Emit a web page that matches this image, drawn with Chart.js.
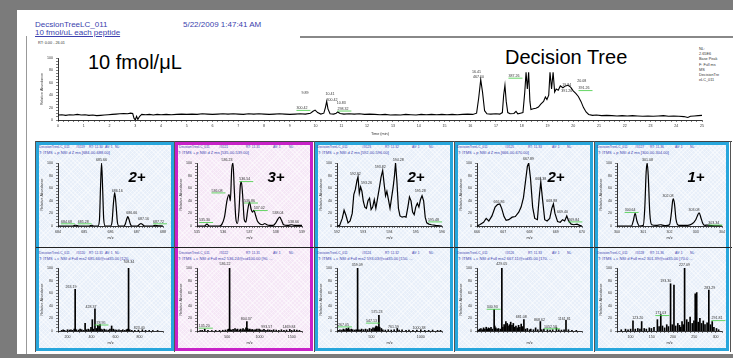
<!DOCTYPE html>
<html>
<head>
<meta charset="utf-8">
<script src="https://cdn.jsdelivr.net/npm/chart.js@4.4.1/dist/chart.umd.min.js"></script>
<style>
  body { margin:0; width:733px; height:358px; background:#7b7b7b; position:relative; overflow:hidden; font-family:Arial, "Liberation Sans", sans-serif; }
  .abs { position:absolute; }
  .hdr { color:#3b3fae; font-size:8px; line-height:8px; white-space:nowrap; }
  .tiny { font-size:3.8px; line-height:4.6px; white-space:nowrap; color:#333; }
  .ph { font-size:3.3px; line-height:4px; color:#3b3fae; white-space:pre; }
  .ph2 { font-size:4px; line-height:4px; color:#3b3fae; white-space:pre; }
  .col { box-sizing:border-box; border:3px solid #27a6dc; background-color:#e8eff9;
         background-image:repeating-linear-gradient(45deg, rgba(255,255,255,0.45) 0 1px, transparent 1px 3px),
                          repeating-linear-gradient(-45deg, rgba(255,255,255,0.45) 0 1px, transparent 1px 3px); }
  .col.pink { border-color:#c822c8; background-color:#f5e7f6; }
  .charge { font:italic bold 15px Arial, "Liberation Sans", sans-serif; color:#000; transform:translate(-50%,-50%); }
  .big { font-size:20px; line-height:20px; color:#000; white-space:nowrap; }
  canvas { position:absolute; }
</style>
</head>
<body>
<div class="abs" style="left:17px;top:10px;width:716px;height:344px;background:#fff"></div>
<div class="abs" style="left:26px;top:36px;width:1px;height:318px;background:#999"></div>
<div class="abs" style="left:300px;top:36px;width:433px;height:2px;background:#888"></div>

<div class="abs hdr" style="left:35px;top:21px">DecsionTreeLC_011</div>
<div class="abs hdr" style="left:35px;top:29px;text-decoration:underline">10 fmol/uL each peptide</div>
<div class="abs hdr" style="left:183px;top:21px">5/22/2009 1:47:41 AM</div>
<div class="abs tiny" style="left:38px;top:41px">RT: 0.00 - 26.01</div>
<div class="abs big" style="left:88px;top:52px">10 fmol/μL</div>
<div class="abs big" style="left:505px;top:47px">Decision Tree</div>
<div class="abs tiny" style="left:699px;top:47px;line-height:5.2px">NL:<br>2.65E6<br>Base Peak<br>F: Full ms<br>MS<br>DecisionTre<br>eLC_011</div>

<script>
// chromatogram (base peak), time in min, relative abundance in %
const chromTime = [
  0.0, 0.15, 0.3, 0.45, 0.6, 0.75, 0.9, 1.05, 1.2, 1.35,
  1.5, 1.65, 1.8, 1.95, 2.1, 2.25, 2.4, 2.55, 2.7, 2.82,
  2.9, 2.95, 3.0, 3.05, 3.1, 3.17, 3.25, 3.4, 3.55, 3.7,
  3.85, 4.0, 4.2, 4.4, 4.6, 4.8, 5.0, 5.2, 5.4, 5.6,
  5.8, 6.0, 6.2, 6.4, 6.6, 6.8, 7.0, 7.2, 7.4, 7.6,
  7.8, 8.0, 8.2, 8.4, 8.6, 8.8, 9.0, 9.2, 9.4, 9.6,
  9.8, 9.9, 9.98, 10.08, 10.2, 10.32, 10.38, 10.43, 10.48, 10.56,
  10.7, 10.8, 10.86, 10.95, 11.1, 11.3, 11.5, 11.7, 11.9, 12.1,
  12.3, 12.5, 12.7, 12.9, 13.1, 13.3, 13.5, 13.7, 13.9, 14.1,
  14.3, 14.5, 14.7, 14.9, 15.1, 15.3, 15.5, 15.7, 15.9, 16.1,
  16.25, 16.33, 16.41, 16.48, 16.56, 16.65, 16.8, 17.0, 17.15, 17.25,
  17.3, 17.35, 17.4, 17.46, 17.55, 17.7, 17.78, 17.85, 17.95, 18.05,
  18.12, 18.17, 18.22, 18.27, 18.32, 18.36, 18.45, 18.55, 18.65, 18.75,
  18.85, 18.92, 18.98, 19.05, 19.1, 19.16, 19.22, 19.28, 19.34, 19.42,
  19.5, 19.6, 19.7, 19.8, 19.9, 20.0, 20.1, 20.2, 20.3, 20.4,
  20.5, 20.6, 20.75, 20.9, 21.1, 21.3, 21.5, 21.7, 21.9, 22.1,
  22.3, 22.5, 22.7, 22.9, 23.1, 23.3, 23.5, 23.7, 23.9, 24.1,
  24.3, 24.45, 24.55, 24.7, 24.85, 25.0
];
const chromInt = [
  8, 8.5, 7.5, 8.5, 8, 9, 8, 8.5, 7.5, 8,
  7, 7.5, 8, 8.5, 9, 9.5, 10, 10.5, 10, 11,
  10.5, 3, 0, 6, 1, 6, 9, 8.5, 9, 8,
  9, 8.5, 9, 8.5, 9, 9.5, 9, 9.5, 9, 10,
  9.5, 9, 9.5, 10, 9.5, 10, 9.5, 9, 10, 9.5,
  10, 9.5, 9, 9.5, 10, 9.5, 9, 9.5, 10, 9.5,
  11, 14, 16, 12, 9.5, 11, 20, 30, 18, 10,
  9.5, 11, 13, 10.5, 9.5, 10, 9.5, 10, 9, 9.5,
  9, 8.5, 9, 8, 8.5, 8, 9, 8.5, 8, 9,
  8.5, 9, 8.5, 9, 8.5, 9, 8.5, 9, 9.5, 9,
  11, 35, 65, 45, 15, 10, 9.5, 10, 9.5, 12,
  40, 56, 30, 12, 10, 10.5, 14, 10, 11, 12,
  45, 77, 50, 77, 30, 17, 18, 19, 21, 26,
  30, 37, 33, 40, 77, 50, 77, 45, 50, 48,
  55, 52, 55, 56, 53, 47, 43, 38, 30, 20,
  13, 9, 7.5, 8, 7, 7.5, 7, 6.5, 7, 6.5,
  7, 6.5, 6, 6.5, 6, 6.5, 7, 6, 6.5, 6,
  5.5, 4, 6, 6.5, 7, 7.5
];
// [time, abundance, text, green mark]
const chromLabels = [
  [9.59, 43, '9.89', 0], [9.47, 19, '300.42', 1],
  [10.56, 42, '10.41', 0], [10.64, 33, '300.42', 0],
  [11.0, 27, '10.83', 0], [11.06, 18, '298.32', 1],
  [16.25, 78, '16.41', 0], [16.32, 70, '467.10', 0],
  [17.7, 71, '387.26', 1],
  [19.75, 56, '19.84', 0], [19.75, 47, '391.26', 0],
  [20.33, 63, '20.08', 0], [20.42, 51, '391.26', 1]
];

// zoom scans (profile), top row
const msMz1 = [684.0, 684.55, 684.62, 684.68, 684.74, 684.8, 685.18, 685.24, 685.3, 685.36, 685.52, 685.58, 685.62, 685.66, 685.70, 685.74, 685.80, 686.0, 686.06, 686.11, 686.16, 686.21, 686.26, 686.32, 686.52, 686.57, 686.62, 686.66, 686.70, 686.75, 686.80, 687.02, 687.09, 687.16, 687.23, 687.30, 687.62, 687.70, 687.76, 688.0];
const msInt1 = [0, 0, 0.8, 1.2, 0.6, 0, 0, 0.8, 1.2, 0, 0, 10, 62, 100, 60, 12, 0, 0, 7, 35, 53, 34, 7, 0, 0, 4, 11, 15, 11, 4, 0, 0, 2, 4, 2, 0, 0, 1.2, 0.5, 0];
const msMz2 = [535.0, 535.28, 535.38, 535.47, 535.85, 535.95, 536.05, 536.14, 536.22, 536.27, 536.32, 536.37, 536.42, 536.48, 536.54, 536.6, 536.65, 536.69, 536.74, 536.8, 536.86, 536.93, 537.0, 537.06, 537.11, 537.17, 537.23, 537.3, 537.4, 537.5, 537.58, 537.66, 537.76, 537.9, 538.0, 538.08, 538.15, 538.22, 538.3, 538.45, 538.6, 538.7, 539.0];
const msInt2 = [0, 0, 3, 0, 0, 3, 15, 40, 50, 40, 88, 100, 58, 12, 4, 25, 64, 70, 48, 10, 6, 25, 38, 27, 22, 25, 17, 8, 3, 2, 4, 2, 1, 1, 5, 11, 14, 9, 2, 1, 2, 1, 1];
const msMz3 = [592.0, 592.1, 592.2, 592.27, 592.34, 592.42, 592.5, 592.58, 592.64, 592.7, 592.76, 592.8, 592.85, 592.9, 592.95, 593.0, 593.06, 593.12, 593.18, 593.24, 593.3, 593.36, 593.42, 593.48, 593.55, 593.62, 593.68, 593.74, 593.8, 593.85, 593.9, 593.96, 594.02, 594.08, 594.14, 594.19, 594.23, 594.28, 594.34, 594.4, 594.48, 594.56, 594.63, 594.7, 594.76, 594.82, 594.88, 594.94, 595.0, 595.06, 595.12, 595.18, 595.24, 595.3, 595.36, 595.42, 595.5, 595.6, 595.75, 596.0];
const msInt3 = [0, 1, 12, 25, 17, 5, 8, 20, 50, 58, 72, 78, 52, 62, 55, 40, 30, 28, 40, 44, 26, 30, 42, 28, 45, 62, 78, 88, 65, 48, 55, 42, 28, 45, 62, 80, 100, 72, 28, 16, 14, 15, 14, 30, 46, 40, 22, 18, 30, 36, 30, 42, 48, 40, 14, 5, 3, 2, 1, 0];
const msMz4 = [666.0, 666.1, 666.25, 666.35, 666.45, 666.57, 666.69, 666.78, 666.87, 666.94, 667.03, 667.11, 667.21, 667.34, 667.46, 667.59, 667.68, 667.77, 667.86, 667.92, 667.97, 668.04, 668.12, 668.2, 668.3, 668.38, 668.43, 668.49, 668.58, 668.67, 668.77, 668.85, 668.91, 668.97, 669.07, 669.17, 669.26, 669.34, 669.42, 669.49, 669.59, 669.69, 669.81, 669.91, 670.0];
const msInt4 = [0, 2, 6, 12, 8, 16, 30, 34, 35, 28, 15, 9, 10, 14, 15, 22, 30, 45, 75, 95, 100, 75, 30, 12, 10, 50, 70, 45, 10, 8, 12, 28, 35, 20, 7, 6, 10, 8, 16, 8, 3, 2, 3, 1, 0];
const msMz5 = [300.0, 300.55, 300.62, 300.69, 300.76, 300.85, 301.0, 301.06, 301.11, 301.15, 301.19, 301.25, 301.32, 301.5, 301.65, 301.72, 301.85, 302.0, 302.07, 302.12, 302.15, 302.19, 302.25, 302.35, 302.7, 302.85, 303.0, 303.08, 303.13, 303.19, 303.27, 303.35, 303.44, 303.6, 304.0];
const msInt5 = [0, 0, 8, 20, 8, 0, 1, 30, 85, 100, 80, 20, 2, 1, 2, 1.5, 0.5, 2, 20, 40, 43, 35, 10, 1, 1, 3, 10, 18, 21, 14, 4, 1, 1.5, 0.5, 0];

// MS2 scans (centroid sticks), bottom row
const ms2Mz1 = [150, 163, 175, 199, 215, 228, 241, 255, 263, 272, 290, 304, 318, 333, 346, 358, 372, 387, 395, 406, 414, 428, 440, 452, 462, 470, 478, 490, 505, 520, 538, 553, 567, 580, 595, 610, 628, 645, 660, 676, 690, 699, 708, 718, 735, 760, 790, 823, 850, 880, 910, 950];
const ms2Int1 = [1, 2, 1, 2, 1.5, 2, 1, 3, 66, 2, 1.5, 3, 2, 1, 12, 2, 3, 2, 6, 18, 3, 35, 4, 9, 7, 10, 3, 2, 3, 2, 1.5, 3, 8, 3, 2, 1.5, 2, 1, 2, 1, 2, 3, 100, 2, 1, 1, 1.5, 2, 1, 1, 0.8, 0.8];
const ms2Mz2 = [80, 110, 150, 200, 260, 320, 380, 430, 470, 505, 520, 536, 548, 565, 590, 620, 645, 660, 690, 705, 730, 745, 770, 790, 804, 815, 830, 850, 870, 890, 915, 935, 960, 993, 1010, 1040, 1070, 1100, 1130, 1160, 1190, 1220, 1260, 1300, 1340, 1380, 1420, 1470, 1500, 1540, 1580, 1620];
const ms2Int2 = [0.8, 1, 3, 1, 0.8, 1, 1, 1.2, 1.5, 2, 3, 100, 2, 1.5, 2.5, 4, 2, 3, 1.5, 3, 2, 4, 2, 5, 15, 4, 2, 3, 2, 2.5, 1.5, 2, 3, 3, 2, 1.5, 2.5, 1, 2, 1.5, 1, 2, 1.5, 1, 2, 1, 1.5, 2.5, 1, 2, 1.5, 1];
const ms2Mz3 = [165, 180, 200, 215, 230, 245, 258, 267, 280, 295, 310, 330, 345, 359, 372, 385, 400, 420, 440, 460, 480, 500, 515, 530, 540, 547, 555, 565, 575, 583, 600, 615, 640, 670, 700, 730, 761, 780, 810, 850, 880, 920, 960, 1000, 1040, 1080, 1120, 1170, 1200];
const ms2Int3 = [1, 2, 1.5, 3, 2, 4, 3, 5, 2, 3, 2, 1.5, 2, 100, 2, 1.5, 3, 2, 3, 2, 4, 3, 5, 4, 6, 8, 5, 7, 25, 6, 4, 2, 1.5, 2, 1.5, 2, 4, 1.5, 2, 1, 1.5, 1, 1.5, 2, 1, 1, 1.5, 1, 1];
const ms2Mz4 = [160, 175, 190, 205, 220, 235, 250, 262, 275, 290, 305, 320, 341, 348, 360, 375, 390, 410, 429, 440, 455, 465, 475, 490, 500, 515, 530, 545, 560, 575, 590, 605, 620, 635, 650, 665, 681, 700, 720, 745, 760, 790, 815, 840, 869, 885, 910, 950, 980, 1010, 1053, 1080, 1110, 1140, 1162, 1190, 1230, 1280];
const ms2Int4 = [1.5, 3, 4, 2, 5, 3, 6, 3, 5, 4, 6, 3, 34, 8, 5, 3, 4, 3, 100, 6, 10, 7, 15, 12, 8, 10, 14, 9, 12, 6, 8, 5, 9, 6, 11, 7, 18, 3, 4, 2, 3, 2, 5, 2, 15, 2, 3, 2, 1.5, 2, 5, 2, 1.5, 2, 17, 2, 1, 1];
const ms2Mz5 = [78, 88, 94, 100, 105.6, 111, 117, 122, 126, 132, 137, 144, 149, 155, 163, 167, 171, 175, 180, 185, 189, 194, 198, 202, 206, 211, 215, 218, 221, 224, 227, 232, 236, 240, 245, 249, 252, 255.5, 259, 263, 267, 271, 275, 280, 284, 288, 292, 296, 302, 307];
const ms2Int5 = [2, 3, 2, 3, 16, 3, 4, 3, 15, 4, 3, 5, 4, 6, 18, 7, 26, 8, 5, 10, 7, 75, 10, 73, 8, 12, 9, 6, 15, 10, 100, 18, 14, 22, 12, 16, 59, 61, 14, 20, 12, 16, 10, 13, 65, 10, 15, 6, 4, 2];

// peak annotations [m/z, abundance, text, green mark]
const msLab1 = [[685.66, 104, '685.66', 0], [686.26, 56, '686.16', 0], [686.81, 20, '686.66', 0], [687.26, 11, '687.16', 0], [687.83, 7, '687.72', 1], [684.32, 7, '684.68', 1], [684.96, 7, '685.28', 1]];
const msLab2 = [[535.29, 9, '535.30', 1], [535.76, 56, '536.08', 1], [536.14, 105, '536.23', 0], [536.82, 74, '536.54', 1], [537.0, 40, '536.86', 1], [537.37, 28, '537.02', 1], [538.09, 20, '538.04', 0], [538.68, 6, '538.66', 0]];
const msLab3 = [[592.7, 83, '592.82', 0], [593.12, 68, '593.26', 0], [593.65, 93, '593.82', 0], [594.33, 104, '594.28', 0], [595.17, 55, '595.28', 0], [595.68, 10, '595.48', 1]];
const msLab4 = [[666.84, 38, '666.86', 0], [667.96, 106, '667.89', 0], [668.43, 75, '668.38', 0], [668.85, 40, '668.88', 0], [669.26, 23, '669.40', 0], [669.69, 10, '669.84', 1]];
const msLab5 = [[300.5, 25, '300.64', 1], [301.16, 105, '301.08', 0], [301.94, 48, '302.08', 0], [302.93, 25, '303.08', 0], [303.69, 5, '303.34', 1]];
const ms2Lab1 = [[709, 110, '708.34', 0], [228, 70, '263.19', 0], [395, 38, '428.37', 0], [470, 13, '478.95', 1], [798, 5, '823.40', 0]];
const ms2Lab2 = [[464, 106, '536.22', 0], [143, 8, '135.20', 1], [796, 19, '804.37', 0], [1112, 7, '993.57', 0], [1459, 7, '1469.84', 0]];
const ms2Lab3 = [[356, 105, '359.09', 0], [555, 30, '575.23', 0], [499, 16, '547.13', 1], [216, 10, '267.05', 1], [722, 7, '761.59', 0], [982, 5, '1000.38', 0]];
const ms2Lab4 = [[429, 106, '429.05', 0], [318, 38, '340.93', 1], [651, 23, '681.08', 0], [858, 18, '868.62', 0], [984, 7, '1052.58', 1], [1143, 19, '1161.81', 0]];
const ms2Lab5 = [[227, 105, '227.09', 0], [182.5, 79, '193.30', 0], [286, 68, '283.29', 0], [117, 20, '123.20', 0], [171, 28, '173.03', 1], [303, 20, '291.81', 1]];

// scan header texts
const charges = ['2+', '3+', '2+', '2+', '1+'];
const scanTop = ['#3119', '#3121', '#3123', '#3125', '#3127'];
const rtTop = ['11.30', '11.31', '11.32', '11.33', '11.36'];
const filterTop = ['T: ITMS + p NSI d Z ms [684.00-688.00]', 'T: ITMS + p NSI d Z ms [535.00-539.00]', 'T: ITMS + p NSI d Z ms [592.00-596.00]', 'T: ITMS + p NSI d Z ms [666.00-670.00]', 'T: ITMS + p NSI d Z ms [300.00-304.00]'];
const scanBot = ['#3120', '#3122', '#3124', '#3126', '#3128'];
const rtBot = ['11.31', '11.31', '11.32', '11.33', '11.36'];
const filterBot = ['T: ITMS + c NSI d Full ms2 685.66@cid35.00 [120. ...', 'T: ITMS + c NSI d Full ms2 536.24@cid100.00 [90. ...', 'T: ITMS + c NSI d Full ms2 593.03@cid35.00 [150. ...', 'T: ITMS + c NSI d Full ms2 667.11@cid35.00 [170. ...', 'T: ITMS + c NSI d Full ms2 301.39@cid35.00 [70.0 ...'];

// axis ranges: [min, max, minor step, labelled step]
const topAxes = [[684, 688, 0.1, 1], [535, 539, 0.1, 1], [592, 596, 0.1, 1], [666, 670, 0.1, 1], [300, 304, 0.1, 1]];
const botAxes = [[120, 995, 50, 200], [30, 1660, 100, 500], [150, 1215, 50, 500], [145, 1345, 50, 500], [68, 315, 10, 50]];

const colX = [36, 175, 315, 455, 595];
const colW = [138, 138, 138, 138, 134];
const hdrPos = [[3, 40, 53, 69, 79], [4, 44, 71, 98, 114], [2, 47, 70, 97, 114], [2, 50, 73, 97, 112], [2, 40, 55, 80, 95]];

function addDiv(cls, left, top, html, extra) {
    const d = document.createElement('div');
    d.className = 'abs ' + cls;
    d.style.left = left + 'px';
    d.style.top = top + 'px';
    if (extra) d.style.cssText += extra;
    d.innerHTML = html;
    document.body.appendChild(d);
    return d;
}

function addCanvas(left, top, w, h) {
    const c = document.createElement('canvas');
    c.width = w; c.height = h;
    c.style.left = left + 'px';
    c.style.top = top + 'px';
    document.body.appendChild(c);
    return c;
}

// columns, frame lines, headers
colX.forEach(function (x0, c) {
    const box = addDiv('col' + (c === 1 ? ' pink' : ''), x0, 142, '', '');
    box.style.width = colW[c] + 'px';
    box.style.height = '209px';
});
addDiv('', 35, 141, '', 'width:697px;height:1px;background:#444');
addDiv('', 35, 247, '', 'width:697px;height:1px;background:#222');
[35, 174, 314, 454, 594, 730].forEach(function (x) {
    addDiv('', x, 141, '', 'width:1px;height:211px;background:#555');
});

colX.forEach(function (x0, c) {
    const p = hdrPos[c];
    [[145, scanTop[c], rtTop[c], filterTop[c], 151], [251, scanBot[c], rtBot[c], filterBot[c], 257]].forEach(function (r) {
        addDiv('ph', x0 + p[0], r[0], 'DecisionTreeLC_011');
        addDiv('ph', x0 + p[1], r[0], r[1]);
        addDiv('ph', x0 + p[2], r[0], 'RT: ' + r[2]);
        addDiv('ph', x0 + p[3], r[0], 'AV: 1');
        addDiv('ph', x0 + p[4], r[0], 'NL:');
        addDiv('ph2', x0 + 3, r[4], r[3]);
    });
});

const peakLabels = {
    id: 'peakLabels',
    afterDatasetsDraw(chart, args, opts) {
        const ctx = chart.ctx, xs = chart.scales.x, ys = chart.scales.y;
        ctx.save();
        ctx.font = (opts.size || 3.6) + 'px Arial';
        ctx.textAlign = 'center';
        ctx.textBaseline = 'middle';
        (opts.items || []).forEach(function (l) {
            const px = xs.getPixelForValue(l[0]);
            const py = ys.getPixelForValue(l[1]);
            ctx.fillStyle = '#333';
            ctx.fillText(l[2], px, py);
            if (l[3]) {
                const w = ctx.measureText(l[2]).width;
                ctx.strokeStyle = '#3dcc3d';
                ctx.lineWidth = 0.8;
                ctx.beginPath();
                ctx.moveTo(px - w / 2, py + 2.2);
                ctx.lineTo(px + w / 2 + 3, py + 2.2);
                ctx.stroke();
            }
        });
        ctx.restore();
    }
};

function isStep(v, step) {
    return Math.abs(v / step - Math.round(v / step)) < 1e-6;
}

const tickFont = {size: 3.6, family: 'Arial'};
const gridOpts = {drawOnChartArea: false, drawTicks: true, tickLength: 2, color: '#000', lineWidth: 0.5, offset: false};

function xAxis(ax, height, title) {
    return {
        type: 'linear', min: ax[0], max: ax[1], offset: false,
        afterFit: function (s) { s.height = height; },
        border: {display: true, color: '#000', width: 0.8},
        grid: gridOpts,
        ticks: {stepSize: ax[2], autoSkip: false, maxRotation: 0, minRotation: 0, maxTicksLimit: 1000, padding: 1.5, color: '#333', font: tickFont,
            callback: function (v) { return isStep(v, ax[3]) ? String(v) : ''; }},
        title: {display: true, text: title, color: '#333', font: {size: 3.8, family: 'Arial'}, padding: 0}
    };
}

function yAxis(width) {
    return {
        type: 'linear', min: 0, max: 100,
        afterFit: function (s) { s.width = width; },
        border: {display: true, color: '#000', width: 0.8},
        grid: gridOpts,
        ticks: {stepSize: 5, autoSkip: false, maxTicksLimit: 1000, padding: 3, color: '#333', font: tickFont,
            callback: function (v) { return isStep(v, 20) ? String(v) : ''; }},
        title: {display: true, text: 'Relative Abundance', color: '#333', font: {size: 3.6, family: 'Arial'}, padding: 0}
    };
}

function baseOptions(xScale, yScale, pad, labels) {
    return {
        responsive: false, animation: false, events: [],
        layout: {padding: pad},
        scales: {x: xScale, y: yScale},
        plugins: {legend: {display: false}, tooltip: {enabled: false}, peakLabels: {items: labels}}
    };
}

// chromatogram
new Chart(addCanvas(30, 50, 700, 90), {
    type: 'line',
    data: {datasets: [{
        data: chromTime.map(function (t, i) { return {x: t, y: chromInt[i]}; }),
        borderColor: '#000', borderWidth: 1.1, pointRadius: 0, tension: 0
    }]},
    options: baseOptions(xAxis([0, 25, 0.2, 1], 16, 'Time (min)'), yAxis(18), {left: 10, right: 28, top: 8, bottom: 4}, chromLabels),
    plugins: [peakLabels]
});

const topMz = [msMz1, msMz2, msMz3, msMz4, msMz5];
const topInt = [msInt1, msInt2, msInt3, msInt4, msInt5];
const topLab = [msLab1, msLab2, msLab3, msLab4, msLab5];
const botMz = [ms2Mz1, ms2Mz2, ms2Mz3, ms2Mz4, ms2Mz5];
const botInt = [ms2Int1, ms2Int2, ms2Int3, ms2Int4, ms2Int5];
const botLab = [ms2Lab1, ms2Lab2, ms2Lab3, ms2Lab4, ms2Lab5];
const pad = {left: 1, right: 7, top: 8, bottom: 3};

colX.forEach(function (x0, c) {
    new Chart(addCanvas(x0 + 3, 155, 131, 88), {
        type: 'line',
        data: {datasets: [{
            data: topMz[c].map(function (m, i) { return {x: m, y: topInt[c][i]}; }),
            borderColor: '#000', borderWidth: 1.2, pointRadius: 0,
            cubicInterpolationMode: (c === 2 || c === 3) ? 'default' : 'monotone', tension: 0
        }]},
        options: baseOptions(xAxis(topAxes[c], 14, 'm/z'), yAxis(18), pad, topLab[c]),
        plugins: [peakLabels]
    });

    new Chart(addCanvas(x0 + 3, 260, 131, 88), {
        type: 'bar',
        data: {datasets: [{
            data: botMz[c].map(function (m, i) { return {x: m, y: botInt[c][i]}; }),
            backgroundColor: '#000', borderWidth: 0, barThickness: 1, grouped: false
        }]},
        options: baseOptions(xAxis(botAxes[c], 14, 'm/z'), yAxis(18), pad, botLab[c]),
        plugins: [peakLabels]
    });

    addDiv('charge', x0 + 101, 176, charges[c]);
});
</script>
</body>
</html>
